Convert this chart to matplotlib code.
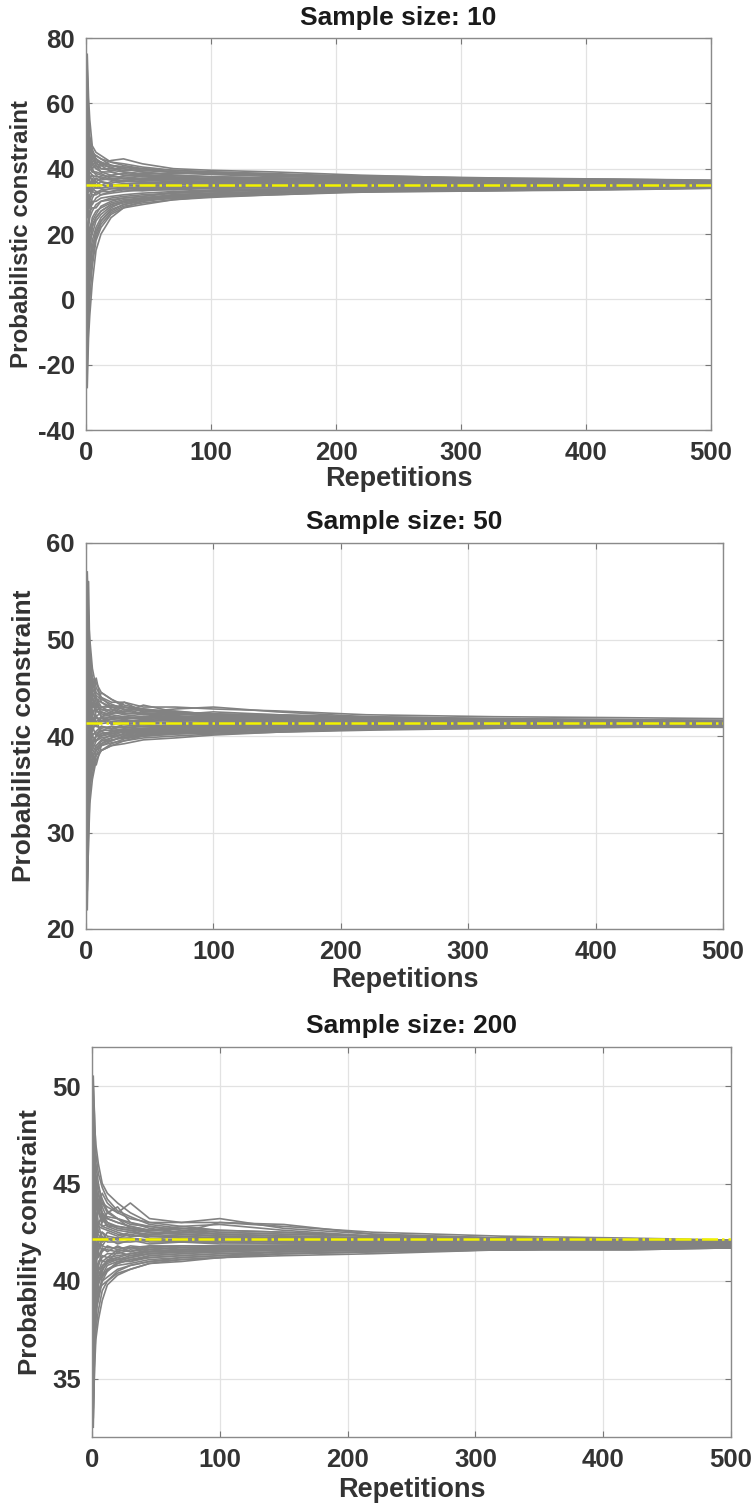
import matplotlib
matplotlib.use("Agg")
import matplotlib.pyplot as plt

plt.rcParams['font.family'] = ['Liberation Sans', 'DejaVu Sans']
plt.rcParams['font.weight'] = 'bold'
plt.rcParams['axes.unicode_minus'] = False

# ---------------- data ----------------
# repetition numbers at which each running trace was read off the picture
x_check = [1, 2, 3, 5, 8, 12, 20, 30, 45, 70, 100, 150, 220, 320, 420, 500]

titles = ["Sample size: 10", "Sample size: 50", "Sample size: 200"]
ylabels = ["Probabilistic constraint", "Probabilistic constraint", "Probability constraint"]
reference_values = [35.0, 41.3, 42.15]
y_limits = [(-40, 80), (20, 60), (32, 52)]
y_ticks = [[-40, -20, 0, 20, 40, 60, 80], [20, 30, 40, 50, 60], [35, 40, 45, 50]]
x_ticks = [0, 100, 200, 300, 400, 500]

traces_n10 = [
    [75, 62, 55, 47, 45, 44, 42, 41, 40, 39.5, 39, 38.5, 37.5, 36.8, 36.5, 36.2],
    [-27, -12, -5, 5, 15, 20, 25, 28, 30, 31, 32, 33, 33.5, 34, 34.3, 34.5],
    [68, 50, 48, 44, 43, 42, 41, 40, 39, 38, 37.5, 37, 36.5, 36.2, 36, 35.8],
    [-10, -8, 0, 10, 18, 22, 26, 28, 29, 30.5, 31.5, 32.5, 33.5, 34, 34.5, 34.8],
    [55, 45, 40, 42, 40, 41, 42.5, 43, 41.5, 40, 39.5, 39, 38, 37, 36.5, 36],
    [10, 20, 15, 22, 25, 27, 29, 30, 31, 32, 32.5, 33, 33, 33.2, 33.5, 34],
    [45, 38, 42, 40, 38, 37, 38, 37, 36.5, 36, 36.3, 36, 35.7, 35.5, 35.3, 35.2],
    [25, 30, 28, 31, 33, 32, 33, 34, 33.5, 34, 34.2, 34.5, 34.6, 34.8, 34.9, 35],
    [40, 36, 38, 36, 37, 36, 35.5, 36.5, 36, 35.5, 35.8, 35.5, 35.3, 35.4, 35.2, 35.1],
    [30, 34, 33, 35, 34, 35, 34.5, 35, 34.8, 35.2, 35, 35.1, 35, 35.1, 35, 35],
    [50, 44, 46, 43, 41, 40, 39.5, 39, 38.5, 38.5, 38.5, 38, 37.5, 37, 36.8, 36.5],
    [0, 15, 20, 25, 27, 28, 29.5, 30.5, 31, 32, 32.5, 33, 33.5, 33.8, 34, 34.2],
    [35, 40, 37, 38, 36, 37, 36.5, 36, 37, 36.5, 36, 35.8, 35.5, 35.6, 35.4, 35.3],
    [20, 26, 30, 29, 31, 32, 32.5, 33, 33.5, 33.5, 34, 34.2, 34.5, 34.6, 34.7, 34.8],
    [60, 52, 47, 45, 44, 43, 41, 40.5, 40, 39, 38.5, 38, 37, 36.5, 36.2, 36],
    [-20, -5, 5, 12, 20, 24, 27, 29, 30, 31.5, 32, 32.5, 33, 33.5, 34, 34.3],
    [38, 33, 36, 34, 36, 35, 36, 35.5, 35.5, 35.8, 35.5, 35.4, 35.5, 35.3, 35.2, 35.2],
    [33, 37, 34, 36, 34, 34, 34.5, 34.2, 34.5, 34.3, 34.5, 34.7, 34.8, 34.9, 35, 35],
    [48, 42, 44, 41, 40, 39, 38, 38.5, 38, 37.5, 37, 37, 36.5, 36.3, 36, 35.8],
    [15, 22, 25, 27, 29, 30, 31, 31.5, 32, 32.5, 33, 33.5, 34, 34.2, 34.4, 34.6],
    [42, 39, 40, 39, 38.5, 38, 37.5, 37.5, 37, 37, 36.8, 36.5, 36.2, 36, 35.8, 35.6],
    [28, 32, 31, 32, 32, 33, 33, 33.5, 33.2, 33.8, 34, 34.2, 34.4, 34.5, 34.6, 34.7],
    [57, 48, 44, 45, 42, 40, 40, 39.5, 39.5, 39, 38.8, 38.2, 37.8, 37.2, 36.8, 36.4],
    [5, 12, 18, 20, 24, 26, 28.5, 29.5, 30.5, 31, 31.5, 32, 32.8, 33.2, 33.8, 34.1],
    [37, 35, 35, 37, 35, 36, 35, 35.2, 35.5, 35.2, 35.3, 35.2, 35.1, 35.2, 35.1, 35],
    [32, 36, 33, 33, 35, 34, 35, 34.6, 35, 34.6, 34.8, 34.8, 34.9, 35, 35, 35],
    [46, 40, 43, 41, 42, 42, 40, 40, 39, 38, 37.5, 37, 37, 36.5, 36.4, 36.2],
    [22, 24, 27, 28, 28, 30, 30.5, 31, 31.5, 32.5, 33, 33.5, 33.8, 34, 34.2, 34.4],
    [52, 46, 42, 40, 41, 39, 39, 38, 37.8, 37.2, 37, 36.6, 36.2, 35.8, 35.7, 35.5],
    [-5, 8, 12, 18, 22, 25, 28, 30, 30.5, 31, 31.8, 32.8, 33.2, 33.6, 33.9, 34.4],
    [70, 58, 50, 46, 43, 41, 39, 38, 37.5, 37, 36.8, 36.3, 35.9, 35.6, 35.5, 35.4],
    [-15, 2, 10, 16, 21, 24, 27.5, 29, 30.5, 31.8, 32.3, 33, 33.6, 34, 34.2, 34.5],
    [62, 54, 46, 43, 44, 43, 42, 41.5, 40.5, 39.5, 39, 38.3, 37.2, 36.6, 36.3, 36],
    [-8, 5, 8, 15, 19, 23, 26.5, 28.5, 29.5, 30.5, 31.2, 32, 33, 33.5, 33.7, 34],
    [53, 47, 43, 39, 39, 38.5, 37, 37, 36.8, 36.8, 36.5, 36.2, 36, 35.8, 35.6, 35.5],
    [12, 18, 22, 24, 26, 28.5, 30, 31, 31.5, 32.8, 33.2, 33.7, 34, 34.3, 34.5, 34.6],
    [47, 43, 41, 44, 41.5, 41, 40.5, 39, 38.2, 37.8, 37.5, 37.2, 36.8, 36.4, 36.1, 35.9],
    [18, 24, 26, 30, 30, 31, 31.5, 32, 32.5, 33, 33.5, 33.8, 34.2, 34.4, 34.6, 34.7],
    [43, 37, 39, 38, 37.5, 37.5, 36.8, 37, 36.4, 36.2, 36, 35.9, 35.7, 35.6, 35.4, 35.3],
    [27, 31, 30, 33, 32.5, 33.5, 33.8, 34, 34.2, 34.4, 34.6, 34.5, 34.7, 34.8, 34.9, 34.9],
    [58, 50, 45, 42, 43, 41.5, 41, 40.5, 39.5, 38.8, 38.2, 37.6, 37, 36.7, 36.3, 36.1],
    [2, 10, 16, 23, 25, 27, 29, 30, 31, 31.5, 32, 32.6, 33.3, 33.9, 34.1, 34.4],
    [36, 39, 36, 35, 37, 36.5, 37, 36.2, 35.8, 35.6, 35.7, 35.6, 35.4, 35.3, 35.2, 35.1],
    [31, 28, 32, 34, 33, 33, 34, 33.8, 34, 34.1, 34.3, 34.4, 34.6, 34.7, 34.8, 34.9],
]

traces_n50 = [
    [57, 52, 50, 47, 45, 44, 43.5, 43.5, 43, 43, 42.8, 42.6, 42.2, 42, 41.9, 41.8],
    [22, 30, 34, 37, 38, 38.5, 39, 39.5, 39.8, 40, 40.2, 40.4, 40.6, 40.8, 40.9, 40.9],
    [50, 56, 48, 45, 44, 43, 43, 42.5, 43.2, 42.5, 42.3, 42, 41.9, 41.7, 41.6, 41.5],
    [30, 33, 36, 38, 37, 39, 39.5, 40, 40, 40.2, 40.5, 40.7, 40.9, 41, 41, 41],
    [45, 42, 44, 43, 44, 42, 42.5, 43.5, 42.5, 42.8, 43, 42.5, 42, 41.8, 41.7, 41.6],
    [35, 38, 40, 39, 40, 40.5, 40, 40.5, 40.3, 40.6, 40.8, 41, 41, 41.1, 41.2, 41.2],
    [48, 45, 46, 44, 42, 42.5, 42, 41.8, 42, 41.7, 41.6, 41.5, 41.5, 41.4, 41.4, 41.4],
    [38, 42, 39, 41, 41, 40.8, 41, 40.8, 41, 41.2, 41.1, 41.2, 41.2, 41.3, 41.3, 41.3],
    [42, 44, 41, 42, 41.5, 41.8, 41.5, 41.6, 41.5, 41.4, 41.5, 41.4, 41.4, 41.3, 41.3, 41.3],
    [40, 39, 42, 40, 40.5, 41, 40.7, 41, 41.2, 41, 41, 41.1, 41.3, 41.2, 41.2, 41.2],
    [52, 47, 45, 46, 44.5, 44, 43, 42.8, 42.3, 42.2, 42.5, 42.2, 41.8, 41.6, 41.5, 41.5],
    [26, 34, 37, 36.5, 38.5, 39, 39.3, 39.5, 40, 40.3, 40.4, 40.6, 40.8, 41, 41, 41.1],
    [44, 40, 43, 41.5, 42, 41.5, 41.8, 42, 41.8, 41.7, 41.6, 41.6, 41.5, 41.5, 41.4, 41.4],
    [36, 40, 38, 40, 39.5, 40, 40.2, 40.5, 40.6, 40.8, 40.9, 41, 41.1, 41.1, 41.2, 41.2],
    [55, 49, 47, 45, 46, 43.5, 42.8, 42.4, 42.2, 42, 41.9, 41.8, 41.7, 41.6, 41.5, 41.5],
    [29, 33, 38, 38, 38.5, 39.5, 39.5, 40, 40.2, 40.4, 40.5, 40.8, 40.9, 41, 41.1, 41.1],
    [43, 41, 40, 42, 41, 42, 41.2, 41.4, 41.2, 41.5, 41.3, 41.3, 41.3, 41.3, 41.3, 41.3],
    [39, 41, 41, 40.5, 41.5, 40.5, 41, 40.9, 41, 41, 41.1, 41.2, 41.2, 41.2, 41.2, 41.3],
    [47, 43, 45, 43, 43, 43, 42.5, 42.2, 42, 42, 41.9, 41.7, 41.6, 41.5, 41.5, 41.4],
    [33, 36, 37, 39, 39, 39.5, 39.8, 40.2, 40.4, 40.5, 40.7, 40.8, 41, 41, 41.1, 41.1],
    [46, 44, 42, 43.5, 42.5, 42.5, 42.2, 42, 41.9, 41.8, 41.8, 41.7, 41.6, 41.5, 41.5, 41.4],
    [37, 38, 39, 39.5, 40, 40, 40.5, 40.6, 40.7, 40.8, 40.9, 41, 41.1, 41.1, 41.2, 41.2],
    [53, 50, 46, 44, 43, 44.5, 43.8, 43, 42.5, 42.6, 42.2, 42, 41.9, 41.7, 41.6, 41.6],
    [31, 35, 35, 37.5, 38, 38.5, 39, 39.2, 39.6, 39.8, 40.1, 40.4, 40.7, 40.8, 40.9, 41],
    [41, 43, 42, 41, 42, 41.3, 41.4, 41.2, 41.4, 41.3, 41.4, 41.3, 41.3, 41.3, 41.3, 41.3],
    [40, 38, 40, 41, 40, 41, 40.8, 41.2, 41, 41.1, 41.2, 41.2, 41.2, 41.3, 41.2, 41.2],
    [49, 46, 44, 44.5, 43.5, 43, 43.2, 43, 42.8, 42.4, 42, 41.9, 41.8, 41.7, 41.6, 41.5],
    [34, 37, 39, 38.5, 39.5, 39.8, 40, 39.8, 40.2, 40.4, 40.6, 40.9, 41, 41.1, 41.1, 41.1],
    [44, 47, 43, 42, 43.5, 42.3, 42, 41.9, 41.7, 41.6, 41.7, 41.6, 41.5, 41.4, 41.4, 41.4],
    [38, 36, 41, 39, 40, 40.2, 40.3, 40.4, 40.5, 40.7, 40.8, 41, 41.1, 41.2, 41.2, 41.2],
    [56, 51, 49, 46, 45.5, 44.5, 43.8, 43.2, 42.8, 42.5, 42.3, 42.2, 42, 41.8, 41.7, 41.6],
    [25, 31, 35, 36, 38, 39.2, 39.6, 39.8, 40.1, 40.3, 40.5, 40.7, 40.9, 41, 41.1, 41.1],
    [51, 48, 47, 44.5, 43.8, 43.5, 43, 43, 42.6, 42.3, 42.1, 41.9, 41.8, 41.6, 41.5, 41.5],
    [28, 32, 36.5, 37.5, 38.8, 39.2, 39.8, 40.3, 40.5, 40.6, 40.7, 40.9, 41, 41.1, 41.1, 41.2],
    [46, 45, 43, 44, 43, 42.8, 42.3, 42.6, 42.3, 42.1, 42, 41.8, 41.7, 41.6, 41.5, 41.5],
    [34, 35, 38.5, 39.5, 39.5, 40.3, 40.4, 40.6, 40.8, 40.9, 41, 41.1, 41.1, 41.2, 41.2, 41.2],
    [48, 44, 44, 42.5, 42.8, 42.7, 42.7, 42.3, 42.4, 42.3, 42.1, 41.9, 41.7, 41.6, 41.5, 41.5],
    [32, 37, 37.5, 38.2, 39, 39.6, 40.1, 40.1, 40.3, 40.4, 40.6, 40.8, 41, 41, 41.1, 41.1],
    [43, 42, 44, 42.5, 41.8, 41.9, 41.7, 41.6, 41.6, 41.6, 41.6, 41.5, 41.4, 41.4, 41.4, 41.3],
    [37, 39, 39.5, 40.2, 40.3, 40.6, 40.6, 40.7, 40.8, 41, 41, 41.1, 41.1, 41.2, 41.2, 41.2],
    [54, 47, 46, 45.5, 44.2, 43.8, 43.3, 42.7, 42.7, 42.4, 42.2, 42.1, 41.9, 41.7, 41.6, 41.6],
    [24, 29, 33, 35.5, 37.5, 38.5, 39.2, 39.7, 40, 40.2, 40.3, 40.5, 40.7, 40.9, 41, 41],
    [42, 40, 41.5, 41.8, 41.2, 41.6, 41.3, 41.5, 41.4, 41.3, 41.3, 41.3, 41.3, 41.3, 41.3, 41.3],
    [45, 43.5, 42.5, 41, 42.8, 42, 41.9, 41.7, 42, 41.9, 41.8, 41.6, 41.5, 41.4, 41.4, 41.4],
]

traces_n200 = [
    [50.5, 48, 47, 46, 45, 44.5, 44, 43.5, 43, 43, 43, 42.8, 42.5, 42.3, 42.2, 42.1],
    [32.5, 36, 37.5, 38.5, 39.5, 40, 40.5, 40.8, 41, 41.2, 41.3, 41.4, 41.5, 41.6, 41.7, 41.7],
    [48, 46, 45, 44, 44.5, 44, 43.5, 44, 43.2, 43, 43.2, 42.7, 42.4, 42.2, 42.1, 42],
    [35, 38, 39, 39.5, 40, 40.5, 41, 41.2, 41.4, 41.5, 41.6, 41.6, 41.7, 41.7, 41.8, 41.8],
    [46, 44, 45, 43.5, 43, 43.5, 43.8, 43, 42.8, 42.6, 42.5, 42.4, 42.3, 42.2, 42.1, 42],
    [38, 40, 41, 40.5, 41, 41, 41.5, 41.3, 41.5, 41.6, 41.7, 41.8, 41.8, 41.9, 41.9, 41.9],
    [44, 42, 43.5, 42.5, 42.5, 42.3, 42.2, 42.4, 42.2, 42.1, 42.1, 42, 42, 42, 41.9, 41.9],
    [40, 42.5, 41, 42, 41.5, 41.8, 41.6, 41.8, 41.7, 41.8, 41.8, 41.8, 41.9, 41.9, 41.9, 41.9],
    [43, 41, 42, 41.5, 42.3, 42, 42, 42, 42.1, 42, 42, 42, 41.9, 41.9, 41.9, 41.9],
    [41, 44, 42.5, 43, 42, 42.5, 42.3, 42.5, 42.3, 42.2, 42.1, 42.1, 42, 42, 42, 41.9],
    [49, 47, 44, 44.5, 43.5, 43.2, 43, 42.8, 42.6, 42.7, 42.5, 42.4, 42.3, 42.1, 42.1, 42],
    [36, 39, 40, 40, 40.5, 41, 41.2, 41, 41.3, 41.4, 41.5, 41.6, 41.6, 41.7, 41.7, 41.8],
    [45, 43, 42, 43, 42.8, 42.7, 42.5, 42.3, 42.4, 42.3, 42.2, 42.1, 42, 42, 41.9, 41.9],
    [39, 41, 40.5, 41, 41.2, 41.4, 41.4, 41.6, 41.5, 41.6, 41.7, 41.7, 41.8, 41.8, 41.8, 41.8],
    [47, 45, 46, 45, 44, 43.8, 43.5, 43.2, 43, 42.8, 42.6, 42.5, 42.3, 42.2, 42.1, 42],
    [34, 37, 38.5, 39, 40, 40.2, 40.6, 40.8, 41, 41.1, 41.2, 41.4, 41.5, 41.6, 41.7, 41.7],
    [42, 43, 41.5, 42.2, 41.8, 42.2, 41.9, 42.1, 41.9, 42, 41.9, 41.9, 41.9, 41.9, 41.9, 41.9],
    [41.5, 40, 42, 41.2, 41.7, 41.5, 41.8, 41.5, 41.8, 41.7, 41.8, 41.8, 41.9, 41.8, 41.8, 41.8],
    [46, 43.5, 44.5, 44, 43.5, 43, 42.8, 42.7, 42.5, 42.4, 42.3, 42.2, 42.1, 42.1, 42, 42],
    [37, 38, 39.5, 40.5, 40.3, 40.8, 41, 41, 41.2, 41.3, 41.4, 41.5, 41.6, 41.6, 41.7, 41.7],
    [44.5, 45, 43, 43, 43.2, 42.8, 42.6, 42.5, 42.4, 42.5, 43, 42.9, 42.4, 42.2, 42.1, 42],
    [40.5, 39, 40.8, 41.5, 41, 41.2, 41.3, 41.4, 41.6, 41.5, 41.6, 41.7, 41.7, 41.8, 41.8, 41.8],
    [48.5, 46, 44, 43.5, 44, 43.5, 43.2, 42.9, 42.8, 42.6, 42.4, 42.3, 42.2, 42.1, 42, 42],
    [33.5, 36.5, 38, 39.5, 39.8, 40, 40.4, 40.6, 40.9, 41, 41.2, 41.3, 41.4, 41.6, 41.6, 41.7],
    [42.5, 41.5, 43, 42, 42.5, 42.1, 42.2, 42.2, 42.1, 42.1, 42.1, 42, 42, 42, 42, 41.9],
    [39.5, 42, 40, 40.8, 41.6, 41.6, 41.5, 41.7, 41.6, 41.7, 41.7, 41.8, 41.8, 41.8, 41.8, 41.8],
    [45.5, 44, 44.5, 43.8, 43, 43.3, 43.2, 43, 42.7, 42.5, 42.4, 42.3, 42.2, 42.1, 42.1, 42],
    [38.5, 39.5, 40, 40.2, 40.8, 41, 41.1, 41.2, 41.4, 41.5, 41.5, 41.6, 41.7, 41.7, 41.8, 41.8],
    [43.5, 44.5, 42.8, 42.8, 42.7, 42.6, 42.4, 42.3, 42.3, 42.2, 42.2, 42.1, 42.1, 42, 42, 42],
    [36.5, 38.5, 39.2, 40, 40.2, 40.6, 40.8, 40.9, 41.1, 41.2, 41.3, 41.5, 41.6, 41.7, 41.7, 41.8],
    [50, 48.5, 46.5, 45.5, 44.8, 44.2, 43.6, 43.3, 42.9, 42.7, 42.6, 42.5, 42.3, 42.2, 42.1, 42.1],
    [33, 35.5, 37, 38, 39, 39.8, 40.3, 40.6, 40.9, 41.1, 41.2, 41.4, 41.5, 41.6, 41.6, 41.7],
    [47.5, 47, 45.5, 44.5, 43.8, 43.2, 43, 42.8, 42.6, 42.5, 42.4, 42.3, 42.2, 42.1, 42.1, 42],
    [35.5, 37.5, 38.8, 39.2, 40.2, 40.6, 40.9, 41.1, 41.3, 41.4, 41.5, 41.6, 41.7, 41.7, 41.8, 41.8],
    [46.5, 45.5, 44, 44.2, 43.3, 43, 42.7, 42.6, 42.5, 42.4, 42.3, 42.2, 42.1, 42.1, 42, 42],
    [37.5, 39, 40.2, 40.6, 40.7, 41.1, 41.2, 41.4, 41.5, 41.6, 41.6, 41.7, 41.8, 41.8, 41.8, 41.8],
    [44, 43.5, 43.2, 43.8, 42.8, 42.9, 42.7, 42.6, 42.3, 42.3, 42.2, 42.2, 42.1, 42, 42, 41.9],
    [38, 41, 39.8, 40.8, 41.3, 41.2, 41.6, 41.5, 41.7, 41.6, 41.7, 41.7, 41.8, 41.8, 41.8, 41.8],
    [42.8, 42, 42.6, 42.4, 42, 42.2, 42.1, 42.2, 42, 42, 42, 41.9, 41.9, 41.9, 41.9, 41.9],
    [40.8, 41.5, 41.3, 41.8, 41.8, 41.7, 41.7, 41.7, 41.8, 41.8, 41.8, 41.8, 41.9, 41.9, 41.9, 41.8],
    [48.8, 45, 45.2, 44.8, 44.2, 43.6, 43.2, 42.7, 42.5, 42.4, 42.3, 42.2, 42.2, 42.1, 42.1, 42],
    [34.5, 37, 38.2, 39.8, 40.4, 40.5, 40.9, 41.1, 41.2, 41.3, 41.4, 41.5, 41.6, 41.6, 41.7, 41.7],
    [43.8, 43, 44.2, 42.9, 43.4, 42.8, 42.8, 42.7, 42.6, 42.8, 42.9, 42.6, 42.3, 42.1, 42.1, 42],
    [37.8, 40.5, 39.5, 40.2, 40.6, 40.9, 41.1, 41.3, 41.4, 41.5, 41.6, 41.7, 41.7, 41.8, 41.8, 41.8],
]

all_traces = [traces_n10, traces_n50, traces_n200]

# ---------------- layout (pixel boxes: left, right, top, bottom) ----------------
W, H = 756, 1511
boxes = [(86, 711, 38, 430), (86, 723, 543, 929), (92, 731, 1047, 1437)]
title_y = [18, 522, 1026]
xlabel_y = [479, 980, 1490]
ylabel_x = [22, 24, 30]
ylabel_size = [17.4, 18.9, 18.6]

fig = plt.figure(figsize=(W / 100, H / 100), dpi=100)
fig.patch.set_facecolor('white')

text_col = '#333333'
for i in range(3):
    l, r, t, b = boxes[i]
    ax = fig.add_axes([l / W, 1 - b / H, (r - l) / W, (b - t) / H])
    for tr in all_traces[i]:
        ax.plot(x_check, tr, color='#828282', lw=1.2, zorder=2)
    ax.axhline(reference_values[i], color='#f2f200', lw=1.8, ls='-.', zorder=3)
    ax.set_xlim(0, 500)
    ax.set_ylim(*y_limits[i])
    ax.set_xticks(x_ticks)
    ax.set_yticks(y_ticks[i])
    ax.grid(True, color='#e2e2e2', lw=0.9)
    ax.set_axisbelow(True)
    ax.tick_params(direction='in', length=4, width=0.8, color='#777777',
                   top=True, right=True, labelsize=18.5, labelcolor=text_col, pad=8)
    for lab in ax.get_xticklabels() + ax.get_yticklabels():
        lab.set_fontweight('bold')
    for sp in ax.spines.values():
        sp.set_color('#8a8a8a')
        sp.set_linewidth(1.0)
    fig.text((l + r) / 2 / W, 1 - title_y[i] / H, titles[i], ha='center', va='center',
             fontsize=19, fontweight='bold', color='#1a1a1a')
    fig.text((l + r) / 2 / W, 1 - xlabel_y[i] / H, "Repetitions", ha='center', va='center',
             fontsize=19.5, fontweight='bold', color=text_col)
    fig.text(ylabel_x[i] / W, 1 - (t + b) / 2 / H, ylabels[i], ha='center', va='center',
             rotation=90, fontsize=ylabel_size[i], fontweight='bold', color=text_col)

fig.savefig('out.png', dpi=100, facecolor='white')
